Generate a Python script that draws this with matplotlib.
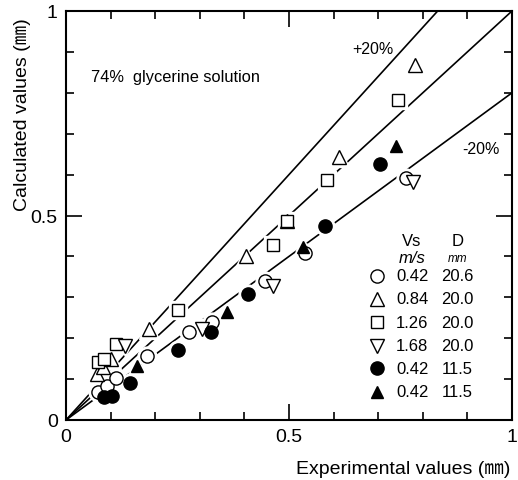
import numpy as np
import matplotlib.pyplot as plt

plt.rcParams['font.family'] = ['Liberation Sans', 'Noto Sans CJK JP']

# experimental (x) vs calculated (y), mm
circ_open_x = [0.072, 0.091, 0.112, 0.181, 0.276, 0.327, 0.446, 0.536, 0.762]
circ_open_y = [0.068, 0.083, 0.103, 0.156, 0.216, 0.239, 0.341, 0.408, 0.591]
tri_up_x = [0.069, 0.084, 0.102, 0.185, 0.404, 0.495, 0.611, 0.783]
tri_up_y = [0.112, 0.129, 0.149, 0.222, 0.402, 0.487, 0.642, 0.868]
square_x = [0.072, 0.086, 0.112, 0.252, 0.465, 0.495, 0.585, 0.744]
square_y = [0.143, 0.150, 0.186, 0.270, 0.427, 0.487, 0.588, 0.782]
tri_dn_x = [0.133, 0.304, 0.465, 0.779]
tri_dn_y = [0.182, 0.222, 0.328, 0.581]
circ_fill_x = [0.085, 0.103, 0.143, 0.252, 0.324, 0.408, 0.581, 0.703]
circ_fill_y = [0.056, 0.059, 0.091, 0.172, 0.214, 0.307, 0.475, 0.626]
tri_fill_x = [0.160, 0.360, 0.532, 0.741]
tri_fill_y = [0.133, 0.265, 0.422, 0.671]

legend_vs = ['0.42', '0.84', '1.26', '1.68', '0.42', '0.42']
legend_d = ['20.6', '20.0', '20.0', '20.0', '11.5', '11.5']

series = [
    (circ_open_x, circ_open_y, 'o', 'white', 9.5),
    (tri_up_x, tri_up_y, '^', 'white', 10),
    (square_x, square_y, 's', 'white', 9),
    (tri_dn_x, tri_dn_y, 'v', 'white', 10),
    (circ_fill_x, circ_fill_y, 'o', 'black', 9.5),
    (tri_fill_x, tri_fill_y, '^', 'black', 9),
]

fig = plt.figure(figsize=(5.18, 4.81), dpi=100)
ax = fig.add_axes([66 / 518, 60 / 481, 446 / 518, 409 / 481])

# 0, +20%, -20% lines
ax.plot([0, 1], [0, 1], color='black', lw=1.2, zorder=1)
ax.plot([0, 1 / 1.2], [0, 1], color='black', lw=1.2, zorder=1)
ax.plot([0, 1], [0, 0.8], color='black', lw=1.2, zorder=1)

for x, y, m, fc, ms in series:
    # white halo so the lines break around the symbols
    ax.plot(x, y, ls='none', marker=m, ms=ms + 4, mfc='white', mec='white',
            zorder=2)
for x, y, m, fc, ms in series:
    ax.plot(x, y, ls='none', marker=m, ms=ms, mfc=fc, mec='black', mew=1.0,
            zorder=3)

# legend drawn by hand
rows_y = [0.353, 0.296, 0.239, 0.181, 0.126, 0.069]
ax.text(0.776, 0.438, 'Vs', ha='center', va='center', fontsize=12)
ax.text(0.877, 0.438, 'D', ha='center', va='center', fontsize=12)
ax.text(0.776, 0.397, 'm/s', ha='center', va='center', fontsize=12,
        style='italic')
ax.text(0.877, 0.397, 'mm', ha='center', va='center', fontsize=8.5,
        style='italic')
for (x, y, m, fc, ms), ry, vs, d in zip(series, rows_y, legend_vs, legend_d):
    ax.plot([0.697], [ry], ls='none', marker=m, ms=ms, mfc=fc, mec='black',
            mew=1.0)
    ax.text(0.776, ry, vs, ha='center', va='center', fontsize=12)
    ax.text(0.877, ry, d, ha='center', va='center', fontsize=12)

ax.text(0.057, 0.84, '74%  glycerine solution', ha='left', va='center',
        fontsize=11.8)
ax.text(0.688, 0.909, '+20%', ha='center', va='center', fontsize=11.5)
ax.text(0.93, 0.665, '-20%', ha='center', va='center', fontsize=11.5)

ax.set_xlim(0, 1)
ax.set_ylim(0, 1)
ax.set_xticks([0, 0.5, 1])
ax.set_xticklabels(['0', '0.5', '1'])
ax.set_yticks([0, 0.5, 1])
ax.set_yticklabels(['0', '0.5', '1'])
ax.set_xticks(np.arange(0, 1.01, 0.1), minor=True)
ax.set_yticks(np.arange(0, 1.01, 0.1), minor=True)
ax.tick_params(which='both', direction='in', top=True, right=True,
               labelsize=14, width=1.2)
ax.tick_params(which='major', length=11.5, pad=6)
ax.tick_params(which='minor', length=6)
for s in ax.spines.values():
    s.set_linewidth(1.5)

fig.text(510 / 518, 1 - 470 / 481, 'Experimental values (\u339c)',
         ha='right', va='center', fontsize=14)
fig.text(23 / 518, 1 - 18 / 481, 'Calculated values (\u339c)',
         ha='center', va='top', rotation=90, fontsize=14)

fig.savefig('out.png', dpi=100)
